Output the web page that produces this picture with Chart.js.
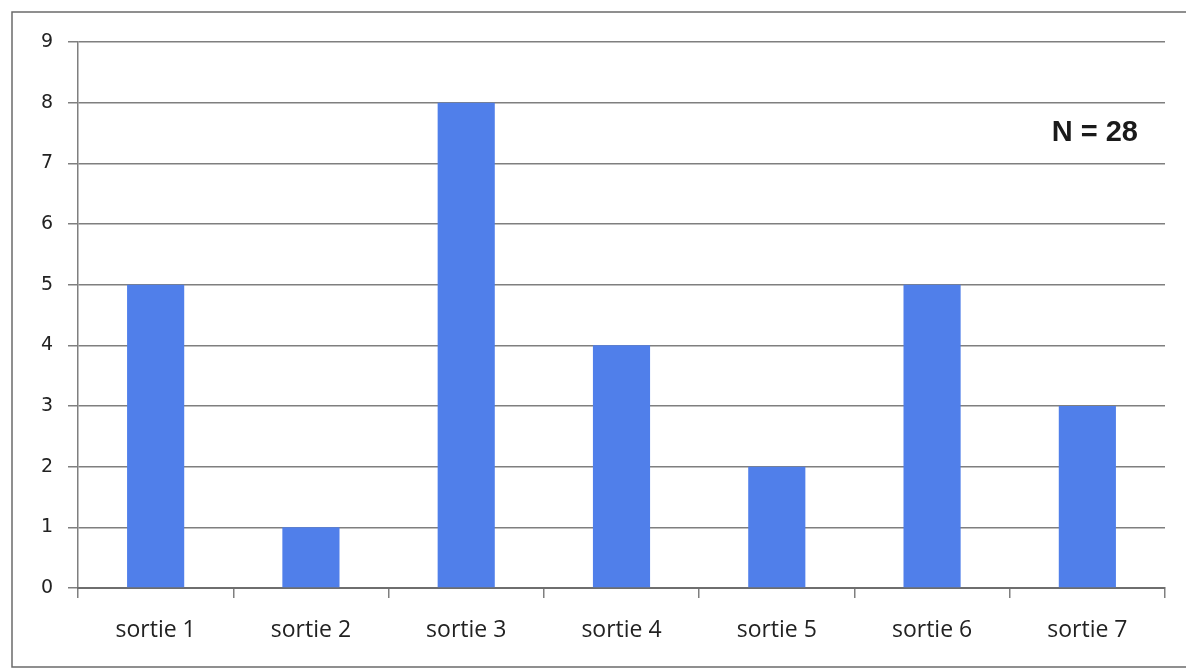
<!DOCTYPE html>
<html>
<head>
<meta charset="utf-8">
<script src="https://cdn.jsdelivr.net/npm/chart.js@4"></script>
<style>
    html, body { margin: 0; padding: 0; background: #fff; overflow: hidden; }
    canvas { display: block; }
</style>
</head>
<body>
<canvas id="sorties" width="1186" height="669"></canvas>
<script>
const categories = ['sortie 1', 'sortie 2', 'sortie 3', 'sortie 4', 'sortie 5', 'sortie 6', 'sortie 7']
const values = [5, 1, 8, 4, 2, 5, 3]
const yTicks = [0, 1, 2, 3, 4, 5, 6, 7, 8, 9]

const total = values.reduce((a, b) => a + b, 0)

// frame round the whole picture + the "N = .." note
const extras = {
    id: 'extras',
    afterDraw(chart) {
        const ctx = chart.ctx
        const y = chart.scales.y
        ctx.save()
        ctx.strokeStyle = '#6b6b6b'
        ctx.lineWidth = 1.5
        ctx.beginPath()
        ctx.moveTo(chart.width + 5, 12)
        ctx.lineTo(12, 12)
        ctx.lineTo(12, chart.height - 2)
        ctx.lineTo(chart.width + 5, chart.height - 2)
        ctx.stroke()

        ctx.fillStyle = '#1a1a1a'
        ctx.font = 'bold 29px "Liberation Sans", Arial, sans-serif'
        ctx.textAlign = 'right'
        ctx.textBaseline = 'middle'
        ctx.fillText('N = ' + total, chart.chartArea.right - 27, y.getPixelForValue(7.5))
        ctx.restore()
    }
}

const ctx = document.getElementById('sorties').getContext('2d')
const myChart = new Chart(ctx, {
    type: 'bar',
    data: {
        labels: categories,
        datasets: [{
            label: '',
            data: values,
            backgroundColor: '#507fea',
            borderWidth: 0,
            barPercentage: 0.46,
            categoryPercentage: 0.8
        }]
    },
    options: {
        responsive: false,
        animation: false,
        layout: {
            padding: { top: 42, right: 21, bottom: 0, left: 0 }
        },
        scales: {
            y: {
                min: 0,
                max: 9,
                afterFit: scale => { scale.width = 78 },
                afterBuildTicks: scale => { scale.ticks = yTicks.map(v => ({ value: v })) },
                ticks: {
                    padding: 15,
                    color: '#222',
                    font: { family: '"DejaVu Sans", sans-serif', size: 19 }
                },
                grid: {
                    color: '#7f7f7f',
                    lineWidth: 1.5,
                    tickLength: 10
                },
                border: { color: '#7f7f7f', width: 1.5 }
            },
            x: {
                afterFit: scale => { scale.height = 81 },
                ticks: {
                    padding: 19,
                    color: '#222',
                    autoSkip: false,
                    maxRotation: 0,
                    font: { family: '"Open Sans", sans-serif', size: 23 }
                },
                grid: {
                    drawOnChartArea: false,
                    color: '#7f7f7f',
                    lineWidth: 1.5,
                    tickLength: 10,
                    offset: true
                },
                border: { color: '#6e6e6e', width: 2 }
            }
        },
        plugins: {
            legend: { display: false },
            tooltip: { enabled: false }
        }
    },
    plugins: [extras]
})
</script>
</body>
</html>
